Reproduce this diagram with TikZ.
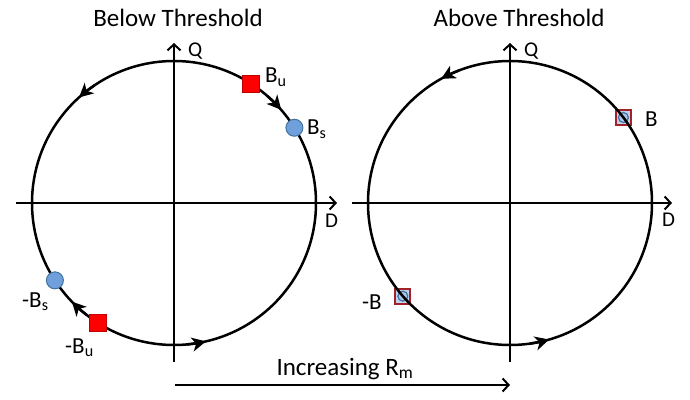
\documentclass[tikz,border=0pt]{standalone}
\usepackage{fontspec}
\setmainfont{Carlito}
\usetikzlibrary{arrows.meta,calc}
\definecolor{sqred}{HTML}{FF0000}
\definecolor{sqedge}{HTML}{C00000}
\definecolor{dotblue}{HTML}{6FA0DC}
\definecolor{dotedge}{HTML}{41719C}
\definecolor{boxedge}{HTML}{A3222A}
\tikzset{
  axis/.style={line width=2pt,-{Straight Barb[length=6pt,width=13pt,line width=2pt]}},
  orbit/.style={line width=2.5pt},
  flow/.style={line width=2.5pt,-{Stealth[length=14pt,width=14pt,inset=4pt]}},
  unstable/.style={draw=sqedge,fill=sqred,minimum size=17pt,inner sep=0pt,line width=0.8pt},
  stable/.style={circle,draw=dotedge,fill=dotblue,minimum size=17pt,inner sep=0pt,line width=1pt},
  mergebox/.style={draw=boxedge,fill=dotblue!45,minimum size=15pt,inner sep=0pt,line width=1.8pt},
  mergedot/.style={circle,draw=dotedge,fill=dotblue!60,minimum size=10pt,inner sep=0pt,line width=1.2pt},
  title/.style={font=\fontsize{25}{30}\selectfont,inner sep=0pt,anchor=base},
  lbl/.style={font=\fontsize{23}{27}\selectfont,inner sep=0pt,anchor=base west},
  axlbl/.style={font=\fontsize{21}{25}\selectfont,inner sep=0pt,anchor=base west}
}
\begin{document}
\begin{tikzpicture}[x=1pt,y=1pt]
  \useasboundingbox (0,0) rectangle (690,399);
  \def\rad{142}
  \coordinate (L) at (174,196);
  \coordinate (R) at (510,196);
  % titles
  \node[title] (belowT) at (178,372) {Below Threshold};
  \node[title] (aboveT) at (519,372) {Above Threshold};
  % axes
  \coordinate (Lw) at (16,196);  \coordinate (Le) at (337,196);
  \coordinate (Ls) at (174,37);  \coordinate (Ln) at (174,356);
  \coordinate (Rw) at (352,196); \coordinate (Re) at (672,196);
  \coordinate (Rs) at (510,37);  \coordinate (Rn) at (510,356);
  \draw[axis] (Lw) -- (Le);
  \draw[axis] (Ls) -- (Ln);
  \draw[axis] (Rw) -- (Re);
  \draw[axis] (Rs) -- (Rn);
  \node[axlbl] (Lq) at (188,342) {Q};
  \node[axlbl] (Ld) at (325,171) {D};
  \node[axlbl] (Rq) at (524,342) {Q};
  \node[axlbl] (Rd) at (662,172) {D};
  % below threshold
  \draw[orbit] (L) circle[radius=\rad];
  \draw[flow] ([shift={(124:\rad)}]L) arc (124:132:\rad);
  \draw[flow] ([shift={(-85:\rad)}]L) arc (-85:-77:\rad);
  \draw[flow] ([shift={(49:\rad)}]L) arc (49:41:\rad);
  \draw[flow] ([shift={(232:\rad)}]L) arc (232:224:\rad);
  \node[unstable] (bu) at ($(L)+(57:\rad)$) {};
  \node[stable] (bs) at ($(L)+(32:\rad)$) {};
  \node[stable] (mbs) at ($(L)+(213:\rad)$) {};
  \node[unstable] (mbu) at ($(L)+(237.5:\rad)$) {};
  \node[lbl] (buT) at (265,316) {B\textsubscript{u}};
  \node[lbl] (bsT) at (307,264) {B\textsubscript{s}};
  \node[lbl] (mbsT) at (22,92) {-B\textsubscript{s}};
  \node[lbl] (mbuT) at (65,46) {-B\textsubscript{u}};
  % above threshold
  \node[mergebox] (b) at ($(R)+(37:\rad)$) {};
  \node[mergedot] at (b) {};
  \node[mergebox] (mb) at ($(R)+(221:\rad)$) {};
  \node[mergedot] at (mb) {};
  \draw[orbit] (R) circle[radius=\rad];
  \draw[flow] ([shift={(111:\rad)}]R) arc (111:119:\rad);
  \draw[flow] ([shift={(-82:\rad)}]R) arc (-82:-74:\rad);
  \node[lbl] (bT) at (645,272) {B};
  \node[lbl] (mbT) at (362,90) {-B};
  % increasing R_m
  \coordinate (incA) at (175,14);
  \coordinate (incB) at (510,14);
  \draw[axis] (incA) -- (incB);
  \node[title] (incT) at (345,24) {Increasing R\textsubscript{m}};
\end{tikzpicture}
\end{document}
